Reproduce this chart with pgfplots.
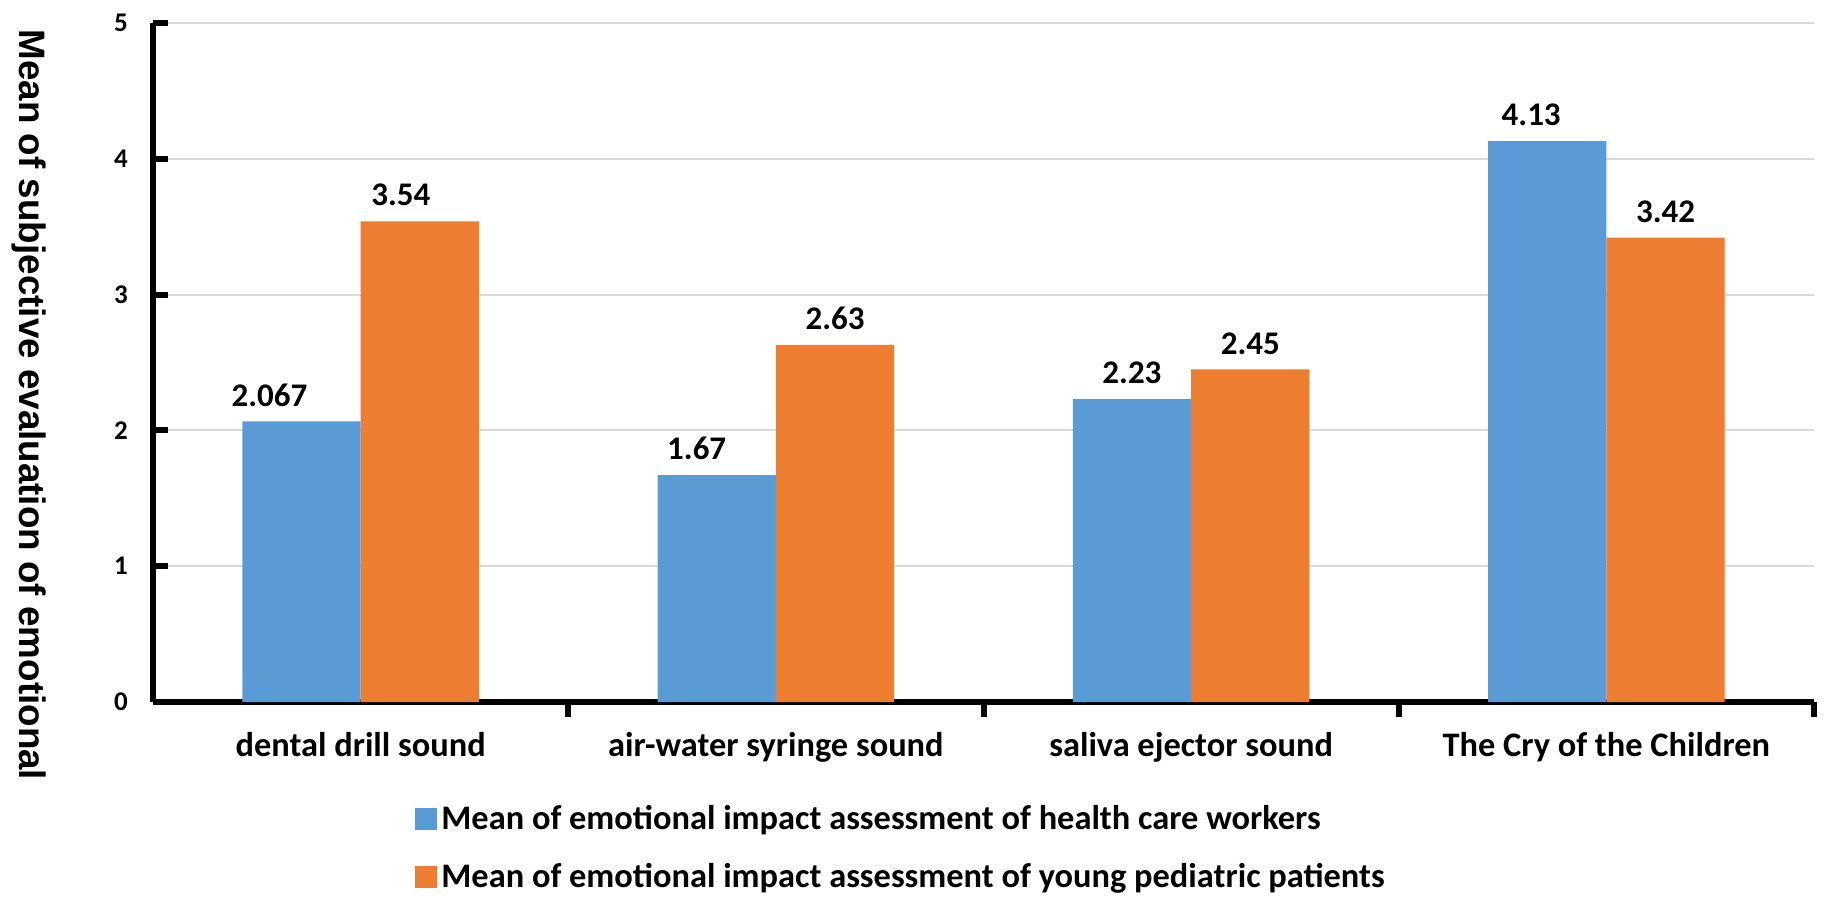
\documentclass[border=0pt]{standalone}
\usepackage{pgfplots}
\pgfplotsset{compat=1.18}
\usepackage{fontspec}
\setmainfont{Carlito}
\newfontfamily\arialb{Liberation Sans}
\definecolor{cblue}{HTML}{5B9BD5}
\definecolor{corange}{HTML}{ED7D31}
\definecolor{cgrid}{HTML}{D9D9D9}
\begin{document}
\begin{tikzpicture}
\path[use as bounding box] (-76.5pt,-99.5pt) rectangle (839pt,351pt);
\begin{axis}[
  at={(0,0)}, anchor=south west,
  scale only axis, width=830.5pt, height=339.5pt,
  xmin=-0.5, xmax=3.5, ymin=0, ymax=5,
  ybar=0pt, bar width=0.285,
  separate axis lines,
  axis x line*=bottom, axis y line*=left,
  axis line style={line width=3pt, black},
  /pgf/number format/assume math mode=true,
  ytick={0,1,2,3,4,5},
  xtick={0,1,2,3},
  xticklabels={dental drill sound, air-water syringe sound, saliva ejector sound, The Cry of the Children},
  minor xtick={0.5,1.5,2.5,3.5},
  tick style={black, line width=3pt},
  major x tick style={draw=none},
  major tick length=7.5pt, minor tick length=7.5pt,
  ymajorgrids,
  grid style={cgrid, line width=1pt},
  xticklabel style={font=\fontsize{17.2}{20}\selectfont\bfseries, yshift=-4pt},
  yticklabel style={font=\fontsize{13.5}{16}\selectfont\bfseries, xshift=-9pt},
  every axis y label/.style={at={(axis description cs:-0.0747,0.4375)}, rotate=-90, anchor=center},
  ylabel={\arialb\bfseries\fontsize{18.4}{22}\selectfont Mean of subjective evaluation of emotional},
  clip=false,
  point meta=explicit symbolic,
  nodes near coords,
  every node near coord/.append style={font=\fontsize{16.5}{20}\selectfont\bfseries, yshift=4pt},
  legend cell align=left,
  legend style={at={(rel axis cs:0,0)}, anchor=north west, xshift=128pt, yshift=-47.5pt,
    draw=none, fill=none, row sep=11.5pt,
    font=\fontsize{17.2}{20}\selectfont\bfseries,
    /tikz/every even column/.append style={column sep=5pt}},
  legend image code/.code={\fill[#1] (0pt,-5.5pt) rectangle (11pt,5.5pt);},
]
\addplot[fill=cblue, draw=none] coordinates {(0,2.067)[2.067\kern32pt] (1,1.67)[1.67\kern20pt] (2,2.23)[2.23] (3,4.13)[4.13\kern16pt]};
\addplot[fill=corange, draw=none] coordinates {(0,3.54)[3.54\kern19pt] (1,2.63)[2.63] (2,2.45)[2.45] (3,3.42)[3.42]};
\legend{Mean of emotional impact assessment of health care workers, Mean of emotional impact assessment of young pediatric patients}
\end{axis}
\end{tikzpicture}
\end{document}
